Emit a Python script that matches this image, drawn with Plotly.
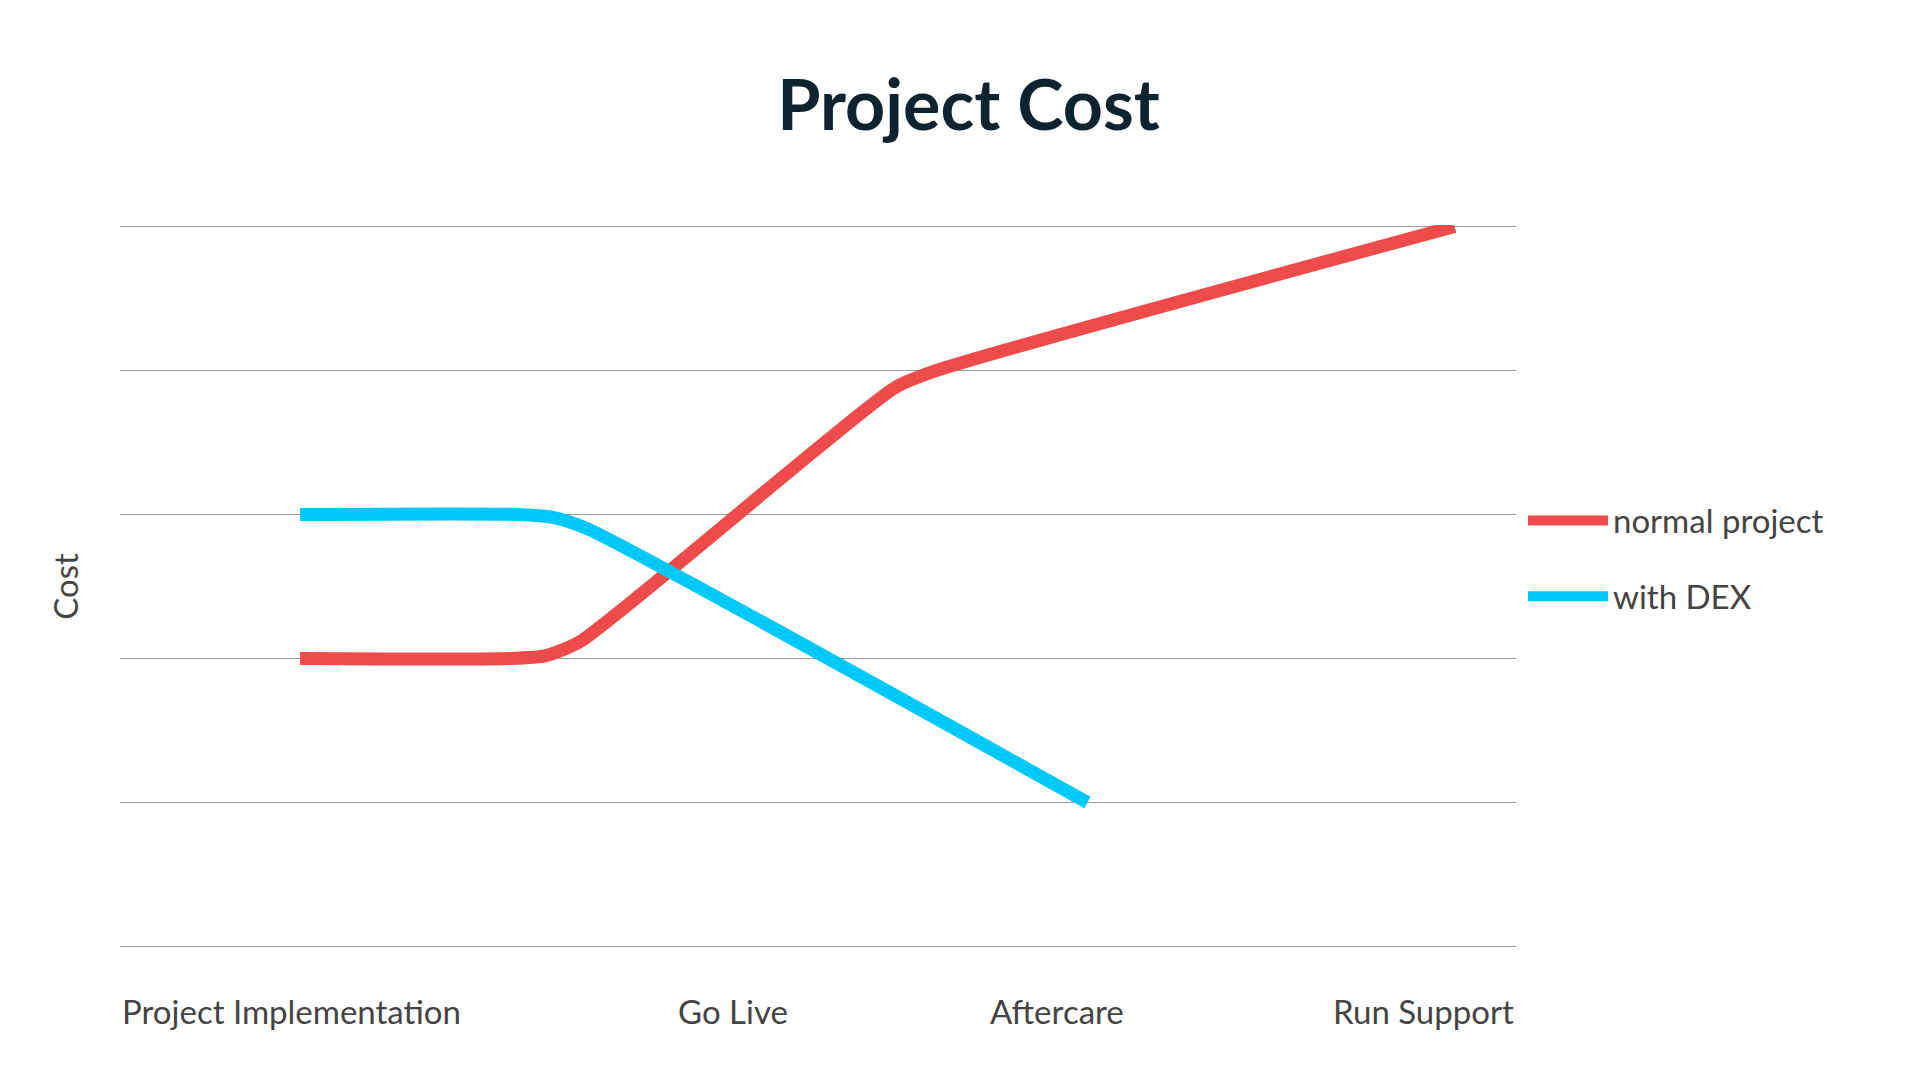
import plotly.graph_objects as go

# x positions on a 0-100 scale across the plot width, y in cost units (gridlines 0..5)
red_x = [12.9, 28.0, 30.5, 33.0, 55.5, 58.5, 95.6]
red_y = [2, 2, 2.02, 2.12, 3.88, 4.0, 5]
blue_x = [12.9, 28.5, 31.0, 33.5, 69.3]
blue_y = [3, 3, 2.98, 2.9, 1]

tick_text = ["Project Implementation", "Go Live", "Aftercare", "Run Support"]
tick_pos = [0, 43.9, 67.1, 100]
tick_anchor = ["left", "center", "center", "right"]

fig = go.Figure()
fig.add_trace(go.Scatter(x=red_x, y=red_y, mode="lines", name="normal project", legendgroup="a",
                         line=dict(color="#ef4b4b", width=13, shape="spline", smoothing=0.6)))
fig.add_trace(go.Scatter(x=blue_x, y=blue_y, mode="lines", name="with DEX", legendgroup="b",
                         line=dict(color="#00c8f8", width=13, shape="spline", smoothing=0.6)))

for t, p, a in zip(tick_text, tick_pos, tick_anchor):
    fig.add_annotation(x=p, y=0, xref="x", yref="y", text=t, showarrow=False,
                       xanchor=a, yanchor="top", yshift=-42,
                       font=dict(size=33, color="#444444"))

fig.update_layout(
    width=1921, height=1080,
    paper_bgcolor="white", plot_bgcolor="white",
    font=dict(family="Lato", color="#444444"),
    title=dict(text="<b>Project Cost</b>", x=0.5, xanchor="center", y=0.91, yanchor="middle",
               font=dict(size=70, color="#0d2430", family="Lato")),
    margin=dict(l=112, r=413, t=217, b=140),
    xaxis=dict(range=[0, 100], showgrid=False, showticklabels=False, zeroline=False),
    yaxis=dict(range=[-0.01, 5.01], tickvals=[0, 1, 2, 3, 4, 5], showgrid=True,
               gridcolor="#999999", gridwidth=1,
               showticklabels=False, zeroline=False,
               title=dict(text="Cost", font=dict(size=33, color="#444444"), standoff=30)),
    legend=dict(x=1.005, y=0.63, xanchor="left", yanchor="top",
                font=dict(size=33, color="#444444"), tracegroupgap=30,
                traceorder="grouped", itemwidth=80),
)

fig.write_html("out.html")
